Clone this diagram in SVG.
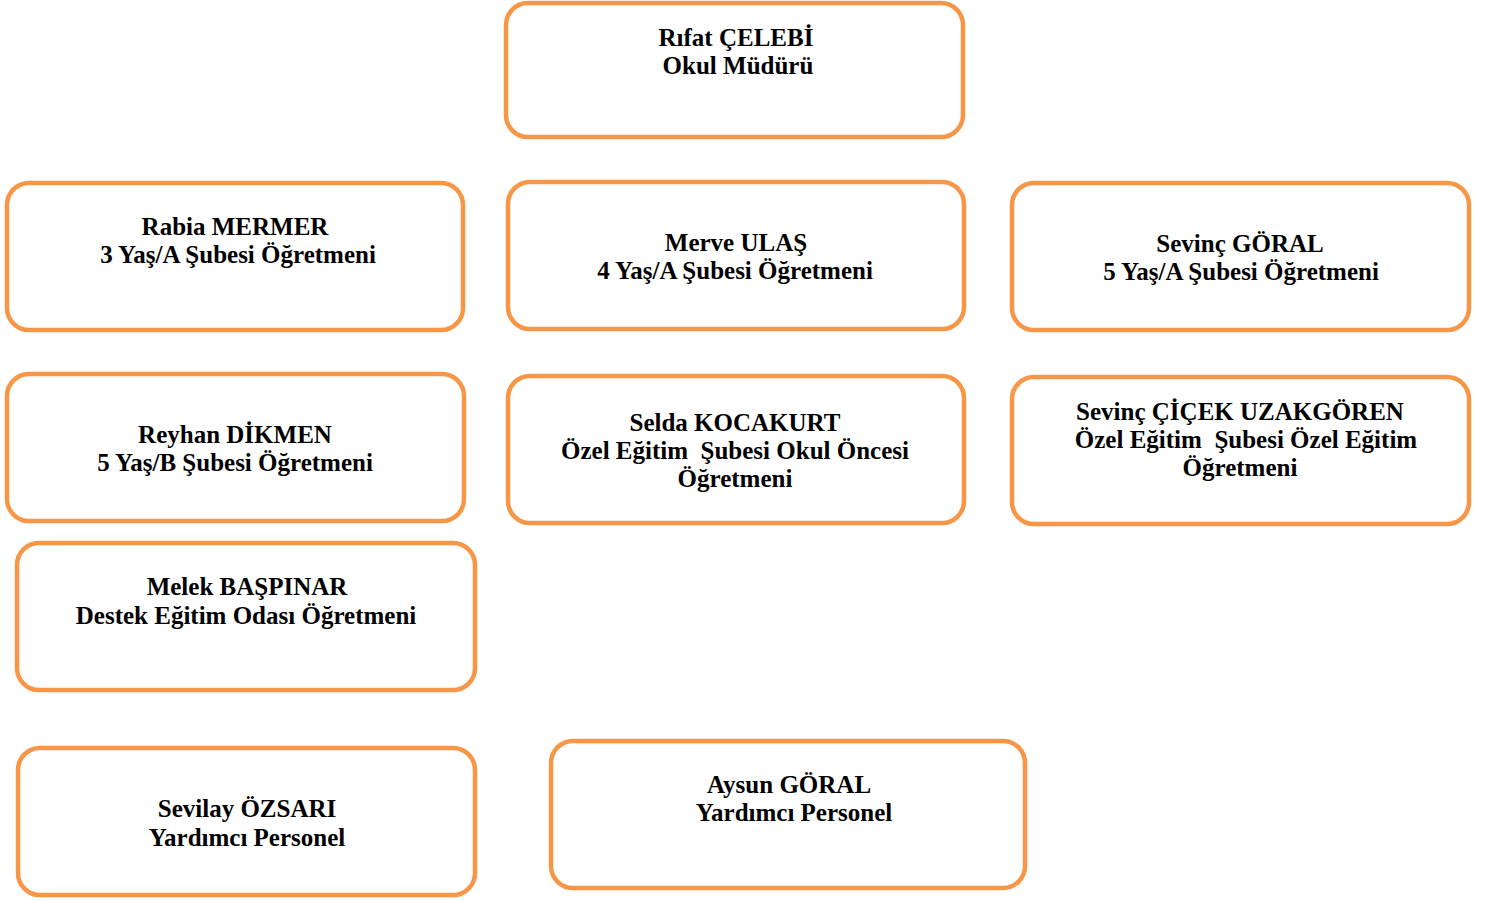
<svg xmlns="http://www.w3.org/2000/svg" width="1495" height="901" viewBox="0 0 1495 901">
<style>
.box{fill:#fff;stroke:#F79646;stroke-width:4.5}
.t{font-family:"Liberation Serif","Times New Roman",serif;font-weight:bold;font-size:25px;fill:#000;text-anchor:middle}
</style>
<rect width="1495" height="901" fill="#fff"/>
<g id="connectors"></g>
<g id="n1"><rect class="box" x="506" y="3" width="457" height="134" rx="22"/>
<text class="t"><tspan x="736" y="46">Rıfat ÇELEBİ</tspan><tspan x="738" y="74">Okul Müdürü</tspan></text></g>
<g id="n2"><rect class="box" x="7" y="183" width="456" height="147" rx="22"/>
<text class="t"><tspan x="235" y="235">Rabia MERMER</tspan><tspan x="238" y="263">3 Yaş/A Şubesi Öğretmeni</tspan></text></g>
<g id="n3"><rect class="box" x="508" y="182" width="456" height="147" rx="22"/>
<text class="t"><tspan x="736" y="251">Merve ULAŞ</tspan><tspan x="735" y="279">4 Yaş/A Şubesi Öğretmeni</tspan></text></g>
<g id="n4"><rect class="box" x="1012" y="183" width="457" height="147" rx="22"/>
<text class="t"><tspan x="1240" y="252">Sevinç GÖRAL</tspan><tspan x="1241" y="280">5 Yaş/A Şubesi Öğretmeni</tspan></text></g>
<g id="n5"><rect class="box" x="7" y="374" width="457" height="147" rx="22"/>
<text class="t"><tspan x="235" y="443">Reyhan DİKMEN</tspan><tspan x="235" y="471">5 Yaş/B Şubesi Öğretmeni</tspan></text></g>
<g id="n6"><rect class="box" x="508" y="376" width="456" height="147" rx="22"/>
<text class="t" xml:space="preserve"><tspan x="735" y="431">Selda KOCAKURT</tspan><tspan x="735" y="459">Özel Eğitim  Şubesi Okul Öncesi</tspan><tspan x="735" y="487">Öğretmeni</tspan></text></g>
<g id="n7"><rect class="box" x="1012" y="377" width="457" height="147" rx="22"/>
<text class="t" xml:space="preserve"><tspan x="1240" y="420">Sevinç ÇİÇEK UZAKGÖREN</tspan><tspan x="1246" y="448">Özel Eğitim  Şubesi Özel Eğitim</tspan><tspan x="1240" y="476">Öğretmeni</tspan></text></g>
<g id="n8"><rect class="box" x="17" y="543" width="458" height="147" rx="22"/>
<text class="t"><tspan x="247" y="595">Melek BAŞPINAR</tspan><tspan x="246" y="624">Destek Eğitim Odası Öğretmeni</tspan></text></g>
<g id="n9"><rect class="box" x="18" y="748" width="457" height="147" rx="22"/>
<text class="t"><tspan x="247" y="817">Sevilay ÖZSARI</tspan><tspan x="247" y="846">Yardımcı Personel</tspan></text></g>
<g id="n10"><rect class="box" x="551" y="741" width="474" height="147" rx="22"/>
<text class="t"><tspan x="789" y="793">Aysun GÖRAL</tspan><tspan x="794" y="821">Yardımcı Personel</tspan></text></g>
</svg>
